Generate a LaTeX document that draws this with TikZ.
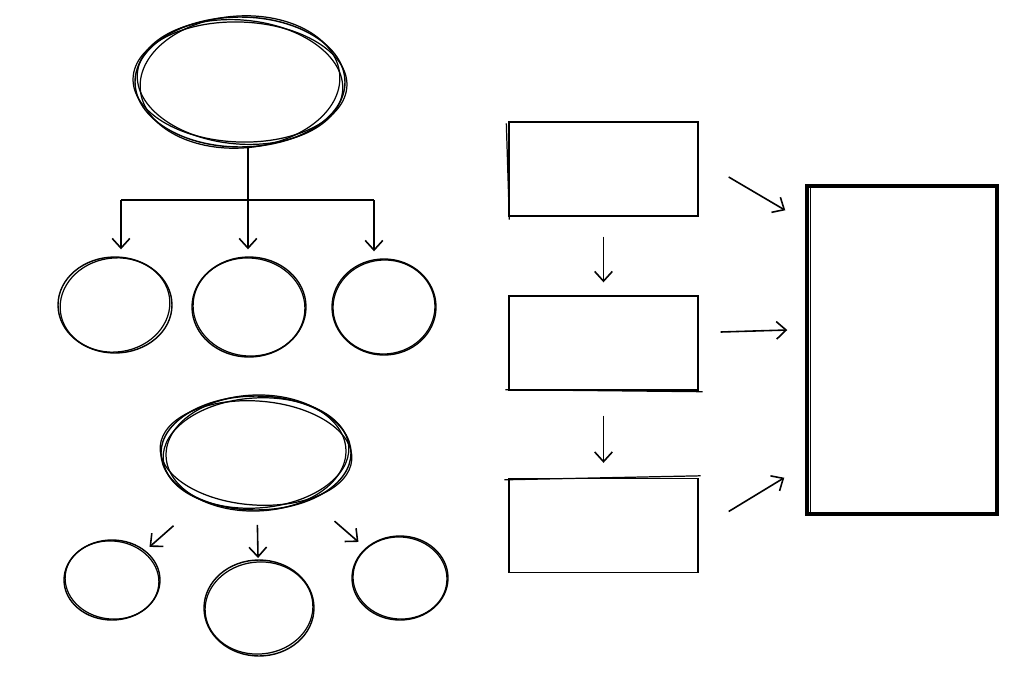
\documentclass[tikz,border=0pt]{standalone}
\usetikzlibrary{arrows, arrows.meta, calc, positioning, shapes.geometric}

\begin{document}
\begin{tikzpicture}[x=0.02cm, y=-0.02cm, >={Straight Barb[length=5.5pt, width=10pt]},
		oval/.style = {draw, ellipse, inner sep=0pt, line width=0.8pt},
		pen/.style = {line width=0.7pt},
		box/.style = {draw, rectangle, inner sep=0pt, line width=0.8pt, minimum width=3.78cm, minimum height=1.88cm},
		arr/.style = {->, line width=0.9pt}]
		\useasboundingbox[fill=white] (0,0) rectangle (1024,683);
		% top tree
		\node[oval, minimum width=4.2cm, minimum height=2.6cm] (top) at (240,82) {};
		\draw[pen, rotate around={-5:(top.center)}] (top.center) ellipse [x radius=103, y radius=62];
		\draw[pen, rotate around={4:(top.center)}] (top.center) ellipse [x radius=100, y radius=66];
		\draw[pen, rotate around={-2:(top.center)}] (top.center) ellipse [x radius=107, y radius=60];
		\node[oval, minimum width=2.28cm, minimum height=1.92cm] (a1) at (115,305) {};
		\node[oval, minimum width=2.28cm, minimum height=2.0cm] (a2) at (249,307) {};
		\node[oval, minimum width=2.08cm, minimum height=1.92cm] (a3) at (384,307) {};
		\draw[pen, rotate around={8:(a1.center)}] (a1.center) ellipse [x radius=55, y radius=47];
		\draw[pen, rotate around={-6:(a2.center)}] (a2.center) ellipse [x radius=56, y radius=49];
		\draw[pen, rotate around={5:(a3.center)}] (a3.center) ellipse [x radius=51, y radius=47];
		\coordinate (fork) at (248,200);
		\coordinate (forkL) at (121,200);
		\coordinate (forkR) at (374,200);
		\draw[line width=0.9pt] (top.south -| fork) -- (fork);
		\draw[line width=0.9pt] (forkL) -- (forkR);
		\draw[arr, shorten >=0.14cm] (forkL) -- (forkL |- a1.north);
		\draw[arr, shorten >=0.14cm] (fork) -- (fork |- a2.north);
		\draw[arr, shorten >=0.14cm] (forkR) -- (forkR |- a3.north);
		% lower tree
		\node[oval, minimum width=3.8cm, minimum height=2.28cm] (low) at (256,453) {};
		\draw[pen, rotate around={4:(low.center)}] (low.center) ellipse [x radius=93, y radius=55];
		\draw[pen, rotate around={-4:(low.center)}] (low.center) ellipse [x radius=96, y radius=52];
		\draw[pen, rotate around={2:(low.center)}] (low.center) ellipse [x radius=90, y radius=58];
		\node[oval, minimum width=1.92cm, minimum height=1.6cm] (b1) at (112,580) {};
		\node[oval, minimum width=2.2cm, minimum height=1.92cm] (b2) at (259,608) {};
		\node[oval, minimum width=1.92cm, minimum height=1.68cm] (b3) at (400,578) {};
		\draw[pen, rotate around={-7:(b1.center)}] (b1.center) ellipse [x radius=47, y radius=39];
		\draw[pen, rotate around={6:(b2.center)}] (b2.center) ellipse [x radius=54, y radius=46];
		\draw[pen, rotate around={-5:(b3.center)}] (b3.center) ellipse [x radius=47, y radius=41];
		\draw[arr, shorten <=2.2cm, shorten >=1.0cm] (low.center) -- (b1.center);
		\draw[arr, shorten <=1.44cm, shorten >=1.0cm] (low.center) -- (b2.center);
		\draw[arr, shorten <=2.08cm, shorten >=1.1cm] (low.center) -- (b3.center);
		% boxes
		\node[box] (r1) at (603.5,169) {};
		\node[box] (r2) at (603.5,343) {};
		\node[box] (r3) at (603.5,525.5) {};
		\draw[pen] ($(r1.north west)+(-2,2)$) -- ($(r1.south west)+(1,3)$);
		\draw[pen] ($(r2.south west)+(-3,-1)$) -- ($(r2.south east)+(4,1)$);
		\draw[pen] ($(r3.north west)+(-4,2)$) -- ($(r3.north east)+(2,-2)$);
		\draw[arr, shorten <=0.4cm, shorten >=0.26cm] (r1) -- (r2);
		\draw[arr, shorten <=0.5cm, shorten >=0.3cm] (r2) -- (r3);
		% tall box
		\node[draw, rectangle, inner sep=0pt, line width=2pt, minimum width=3.8cm, minimum height=6.56cm] (big) at (902,350) {};
		\draw[pen] ($(big.north west)+(5,0)$) -- ($(big.south west)+(5,0)$);
		\draw[arr] ($(r1.east)+(30,8)$) -- ($(big.north west)+(-20,26)$);
		\draw[arr] ($(r2.east)+(22,-11)$) -- ($(big.west)+(-18,-20)$);
		\draw[arr] ($(r3.east)+(30,-14)$) -- ($(big.south west)+(-21,-38)$);
\end{tikzpicture}
\end{document}
